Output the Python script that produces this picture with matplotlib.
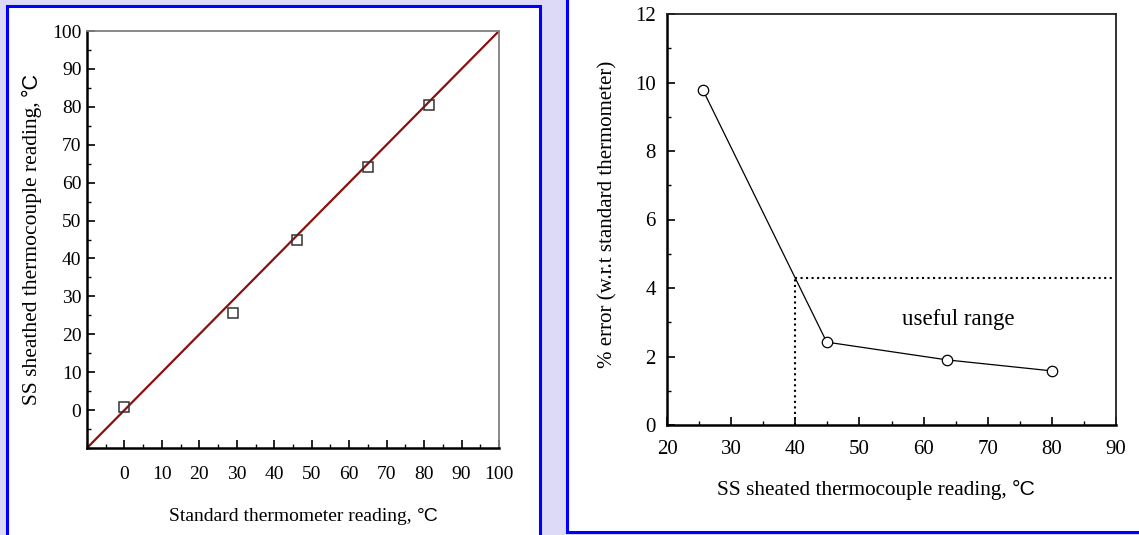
import matplotlib.pyplot as plt
from matplotlib.patches import Rectangle
from matplotlib.ticker import MultipleLocator

plt.rcParams['font.family'] = ['Liberation Serif', 'DejaVu Serif']

# left panel: calibration
std_reading = [0, 29, 46, 65, 81.3]
ss_reading = [0.8, 25.7, 45, 64, 80.6]
cal_ticks = list(range(0, 101, 10))

# right panel: error vs reading
ss_temp = [25.6, 44.9, 63.7, 80]
pct_error = [9.78, 2.42, 1.90, 1.58]
limit_x = 40
limit_err = 4.29
limit_xmax = 89.3

W, H = 1139, 535
fig = plt.figure(figsize=(W / 100, H / 100), dpi=100, facecolor='#DCDAF6')


def px(x, y):
    return x / W, 1 - y / H


# white panels with blue frames
for x0, y0, x1, y1 in [(7, 6, 540, 545), (567, -10, 1150, 532)]:
    fx0, fy1 = px(x0, y0)
    fx1, fy0 = px(x1, y1)
    fig.patches.append(Rectangle((fx0, fy0), fx1 - fx0, fy1 - fy0,
                                 transform=fig.transFigure, facecolor='white',
                                 edgecolor='#0000FF', linewidth=2.2, zorder=-5))


def axes_px(x0, y0, x1, y1):
    l, t = px(x0, y0)
    r, b = px(x1, y1)
    ax = fig.add_axes([l, b, r - l, t - b])
    ax.set_zorder(2)
    return ax


def split_label(x, y, text, size, rotation=0):
    # serif text followed by a sans-serif "°C"
    t = fig.text(x, y, text, fontsize=size, rotation=rotation,
                 rotation_mode='anchor', ha='left', va='baseline', zorder=3)
    fig.canvas.draw()
    bb = t.get_window_extent(fig.canvas.get_renderer())
    if rotation == 0:
        nx, ny = bb.x1 / fig.bbox.width, y
    else:
        nx, ny = x, bb.y1 / fig.bbox.height
    fig.text(nx, ny, '°C', fontsize=size, rotation=rotation,
             rotation_mode='anchor', ha='left', va='baseline', zorder=3,
             family=['Liberation Sans', 'DejaVu Sans'])


# ---- left axes
ax1 = axes_px(87, 31, 499, 448)
ax1.plot([-10, 100], [-10, 100], color='#8B1010', linewidth=1.6, zorder=2)
ax1.plot(std_reading, ss_reading, 's', markersize=7.5, markerfacecolor='none',
         markeredgecolor='#333333', markeredgewidth=1.1, zorder=3)
ax1.set_xlim(-10, 100)
ax1.set_ylim(-10, 100)
ax1.set_xticks(cal_ticks)
ax1.set_yticks(cal_ticks)
ax1.xaxis.set_minor_locator(MultipleLocator(5))
ax1.yaxis.set_minor_locator(MultipleLocator(5))
ax1.tick_params(which='both', direction='in', top=False, right=False)
ax1.tick_params(which='major', length=6, width=1.2, labelsize=14)
ax1.tick_params(which='minor', length=3, width=1)
ax1.tick_params(axis='x', pad=13)
ax1.tick_params(axis='y', pad=4)
for s in ['left', 'bottom']:
    ax1.spines[s].set_linewidth(1.8)
for s in ['top', 'right']:
    ax1.spines[s].set_color('#808080')
    ax1.spines[s].set_linewidth(1.3)

split_label(*px(169, 521), 'Standard thermometer reading, ', 14)
split_label(*px(37, 405), 'SS sheathed thermocouple reading, ', 15.5, rotation=90)

# ---- right axes
ax2 = axes_px(667, 14, 1116, 425)
ax2.plot(ss_temp, pct_error, '-o', color='black', linewidth=0.9,
         markersize=7.5, markerfacecolor='white', markeredgecolor='black',
         markeredgewidth=0.9, zorder=3)
ax2.plot([limit_x, limit_x], [0, limit_err], ':', color='black', linewidth=1.5)
ax2.plot([limit_x, limit_xmax], [limit_err, limit_err], ':', color='black',
         linewidth=1.5)
ax2.text(65.4, 3.07, 'useful range', fontsize=16.5, ha='center', va='center')
ax2.set_xlim(20, 90)
ax2.set_ylim(0, 12)
ax2.xaxis.set_major_locator(MultipleLocator(10))
ax2.xaxis.set_minor_locator(MultipleLocator(5))
ax2.yaxis.set_major_locator(MultipleLocator(2))
ax2.yaxis.set_minor_locator(MultipleLocator(1))
ax2.tick_params(which='both', direction='in', top=False, right=False)
ax2.tick_params(which='major', length=6, width=1.2, labelsize=15)
ax2.tick_params(which='minor', length=3, width=1)
ax2.tick_params(axis='x', pad=11)
ax2.tick_params(axis='y', pad=8)
for s in ['left', 'bottom']:
    ax2.spines[s].set_linewidth(1.8)
for s in ['top', 'right']:
    ax2.spines[s].set_color('#222222')
    ax2.spines[s].set_linewidth(1.3)

split_label(*px(717, 495), 'SS sheated thermocouple reading, ', 15.3)
fig.text(*px(612, 368), '% error (w.r.t standard thermometer)', fontsize=15,
         rotation=90, rotation_mode='anchor', ha='left', va='baseline')

fig.savefig('out.png', dpi=100, facecolor=fig.get_facecolor())
